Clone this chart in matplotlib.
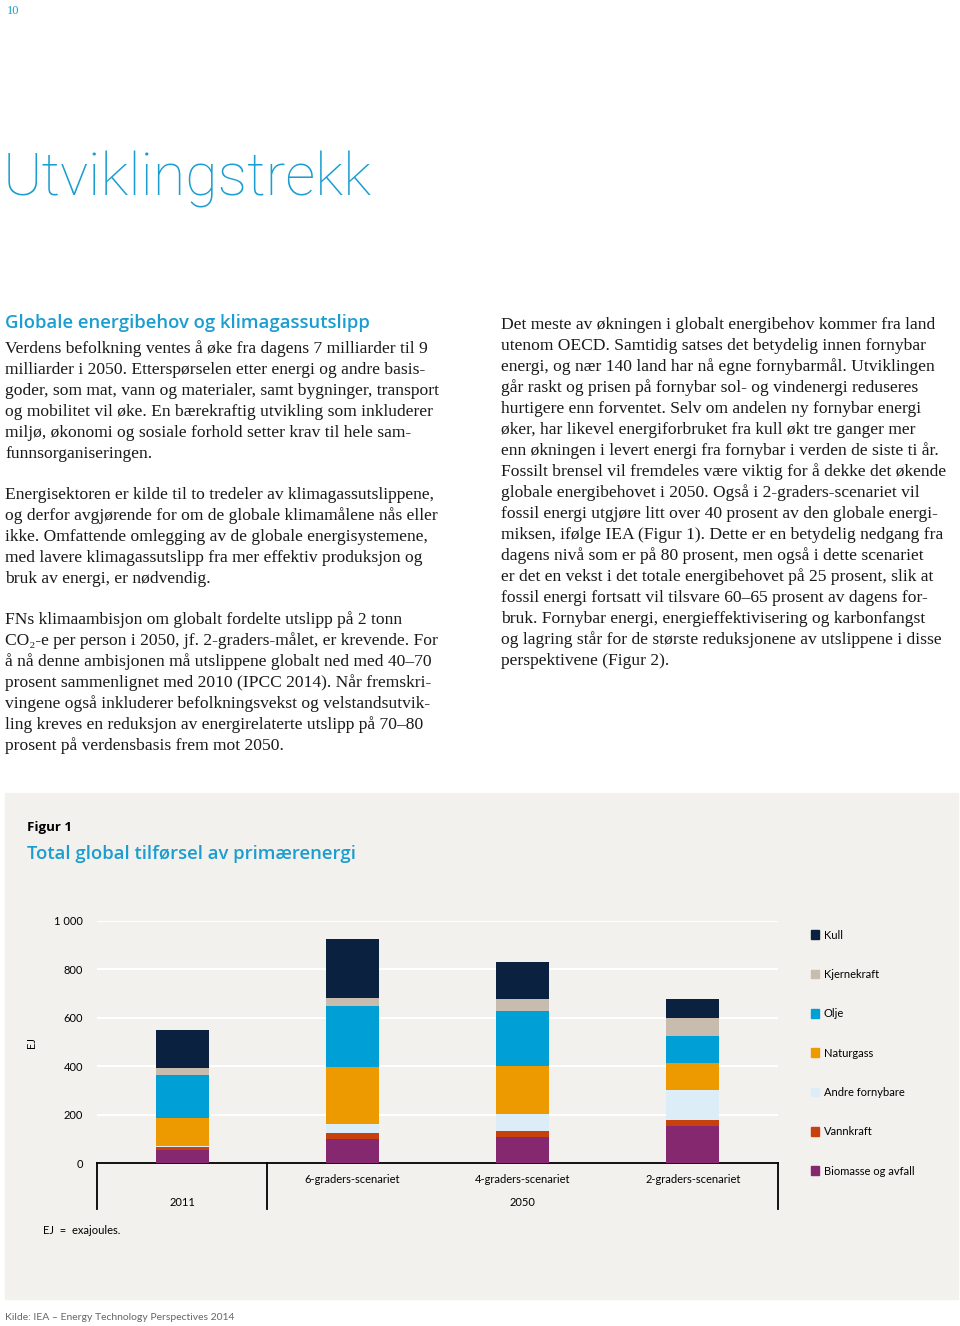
import numpy as np
import matplotlib
matplotlib.use("Agg")
from matplotlib import pyplot as plt
from matplotlib.patches import Rectangle, Patch

# --- data (EJ) ---
scenarios = ["2011", "6-graders-scenariet", "4-graders-scenariet", "2-graders-scenariet"]
sources = ["Biomasse og avfall", "Vannkraft", "Andre fornybare", "Naturgass",
           "Olje", "Kjernekraft", "Kull"]
biomasse = [55, 99, 110, 152]
vannkraft = [11, 25, 25, 28]
andre_fornybare = [5, 38, 67, 122]
naturgass = [117, 236, 199, 113]
olje = [176, 250, 228, 111]
kjernekraft = [27, 35, 50, 73]
kull = [160, 241, 151, 77]
y_ticks = [0, 200, 400, 600, 800, 1000]
y_tick_labels = ["0", "200", "400", "600", "800", "1 000"]

colors = ["#86286f", "#c7410f", "#dcedf8", "#ec9a00", "#00a0d6", "#c8bcae", "#0a2240"]
BLUE = "#1a9dd0"
PANEL = "#f3f1ed"

left_col = [
    ["Verdens befolkning ventes å øke fra dagens 7 milliarder til 9",
     "milliarder i 2050. Etterspørselen etter energi og andre basis-",
     "goder, som mat, vann og materialer, samt bygninger, transport",
     "og mobilitet vil øke. En bærekraftig utvikling som inkluderer",
     "miljø, økonomi og sosiale forhold setter krav til hele sam-",
     "funnsorganiseringen."],
    ["Energisektoren er kilde til to tredeler av klimagassutslippene,",
     "og derfor avgjørende for om de globale klimamålene nås eller",
     "ikke. Omfattende omlegging av de globale energisystemene,",
     "med lavere klimagassutslipp fra mer effektiv produksjon og",
     "bruk av energi, er nødvendig."],
    ["FNs klimaambisjon om globalt fordelte utslipp på 2 tonn",
     "CO₂-e per person i 2050, jf. 2-graders-målet, er krevende. For",
     "å nå denne ambisjonen må utslippene globalt ned med 40–70",
     "prosent sammenlignet med 2010 (IPCC 2014). Når fremskri-",
     "vingene også inkluderer befolkningsvekst og velstandsutvik-",
     "ling kreves en reduksjon av energirelaterte utslipp på 70–80",
     "prosent på verdensbasis frem mot 2050."],
]
right_col = [
    "Det meste av økningen i globalt energibehov kommer fra land",
    "utenom OECD. Samtidig satses det betydelig innen fornybar",
    "energi, og nær 140 land har nå egne fornybarmål. Utviklingen",
    "går raskt og prisen på fornybar sol- og vindenergi reduseres",
    "hurtigere enn forventet. Selv om andelen ny fornybar energi",
    "øker, har likevel energiforbruket fra kull økt tre ganger mer",
    "enn økningen i levert energi fra fornybar i verden de siste ti år.",
    "Fossilt brensel vil fremdeles være viktig for å dekke det økende",
    "globale energibehovet i 2050. Også i 2-graders-scenariet vil",
    "fossil energi utgjøre litt over 40 prosent av den globale energi-",
    "miksen, ifølge IEA (Figur 1). Dette er en betydelig nedgang fra",
    "dagens nivå som er på 80 prosent, men også i dette scenariet",
    "er det en vekst i det totale energibehovet på 25 prosent, slik at",
    "fossil energi fortsatt vil tilsvare 60–65 prosent av dagens for-",
    "bruk. Fornybar energi, energieffektivisering og karbonfangst",
    "og lagring står for de største reduksjonene av utslippene i disse",
    "perspektivene (Figur 2).",
]

W, H = 960, 1326
fig = plt.figure(figsize=(W / 100, H / 100), dpi=100)

# page layer in pixel coordinates
page = fig.add_axes([0, 0, 1, 1], zorder=0)
page.set_xlim(0, W)
page.set_ylim(H, 0)
page.axis("off")

serif = ["Liberation Serif", "DejaVu Serif"]
sans = "Lato"
body_size = 12.6
line_h = 21

page.text(7, 11, "10", color=BLUE, fontsize=9, family=serif, va="center")
page.text(3, 180, "Utviklingstrekk", color=BLUE, fontsize=42.5, family="Roboto",
          fontweight="light", va="center")
page.text(5, 323, "Globale energibehov og klimagassutslipp", color=BLUE,
          fontsize=13.3, family="Open Sans", fontweight="semibold", va="center")

y = 349
for para in left_col:
    for line in para:
        page.text(5, y, line, fontsize=body_size, family=serif, va="center", color="#1a1a1a")
        y += line_h
    y += line_h - 1
y = 325
for line in right_col:
    page.text(501, y, line, fontsize=body_size, family=serif, va="center", color="#1a1a1a")
    y += line_h

# figure panel
page.add_patch(Rectangle((5, 793), 953, 506, color=PANEL, zorder=0))
page.text(27, 828, "Figur 1", fontsize=9.5, family="Open Sans", fontweight="bold", va="center")
page.text(27, 854, "Total global tilførsel av primærenergi", fontsize=13.3, color=BLUE,
          family="Open Sans", fontweight="semibold", va="center")
page.text(31, 1043, "EJ", fontsize=8, family=sans, rotation=90, va="center", ha="center")
page.text(43, 1231, "EJ  =  exajoules.", fontsize=8, family=sans, va="center")
page.text(5, 1318, "Kilde: IEA – Energy Technology Perspectives 2014", fontsize=7.5,
          family=sans, color="#666666", va="center")

# chart
y0, y1000, xl, xr = 1163.3, 920.7, 97, 778
ax = fig.add_axes([xl / W, 1 - y0 / H, (xr - xl) / W, (y0 - y1000) / H], zorder=1)
ax.set_facecolor("none")
x = np.arange(len(scenarios))
series = [biomasse, vannkraft, andre_fornybare, naturgass, olje, kjernekraft, kull]
bottom = np.zeros(len(scenarios))
handles = []
for name, vals, c in zip(sources, series, colors):
    ax.bar(x, vals, bottom=bottom, width=0.31, color=c, zorder=3)
    bottom += np.array(vals)
    handles.append(Patch(color=c, label=name))

ax.set_xlim(-0.5, 3.5)
ax.set_ylim(0, 1000)
ax.set_yticks(y_ticks, y_tick_labels, fontsize=8, family=sans)
ax.tick_params(axis="y", length=0, pad=10)
ax.set_xticks([])
for yy in y_ticks[1:]:
    ax.axhline(yy, color="white", lw=1.5, zorder=1)
for s in ["top", "right", "left"]:
    ax.spines[s].set_visible(False)
ax.spines["bottom"].set_linewidth(1.3)
for xs in [-0.5, 0.5, 3.5]:
    ax.plot([xs, xs], [0, -190], color="black", lw=1.3, clip_on=False)
for xi, lab in zip(x[1:], scenarios[1:]):
    ax.text(xi, -65, lab, ha="center", va="center", fontsize=8, family=sans)
ax.text(0, -160, "2011", ha="center", va="center", fontsize=8, family=sans)
ax.text(2, -160, "2050", ha="center", va="center", fontsize=8, family=sans)

leg = ax.legend(handles=handles[::-1], loc="upper left", bbox_to_anchor=(805, 924),
                bbox_transform=page.transData, frameon=False, borderpad=0,
                handlelength=0.8, handleheight=0.8, handletextpad=0.4,
                labelspacing=2.55, prop={"family": sans, "size": 8})

fig.savefig("out.png", dpi=100, facecolor="white")
